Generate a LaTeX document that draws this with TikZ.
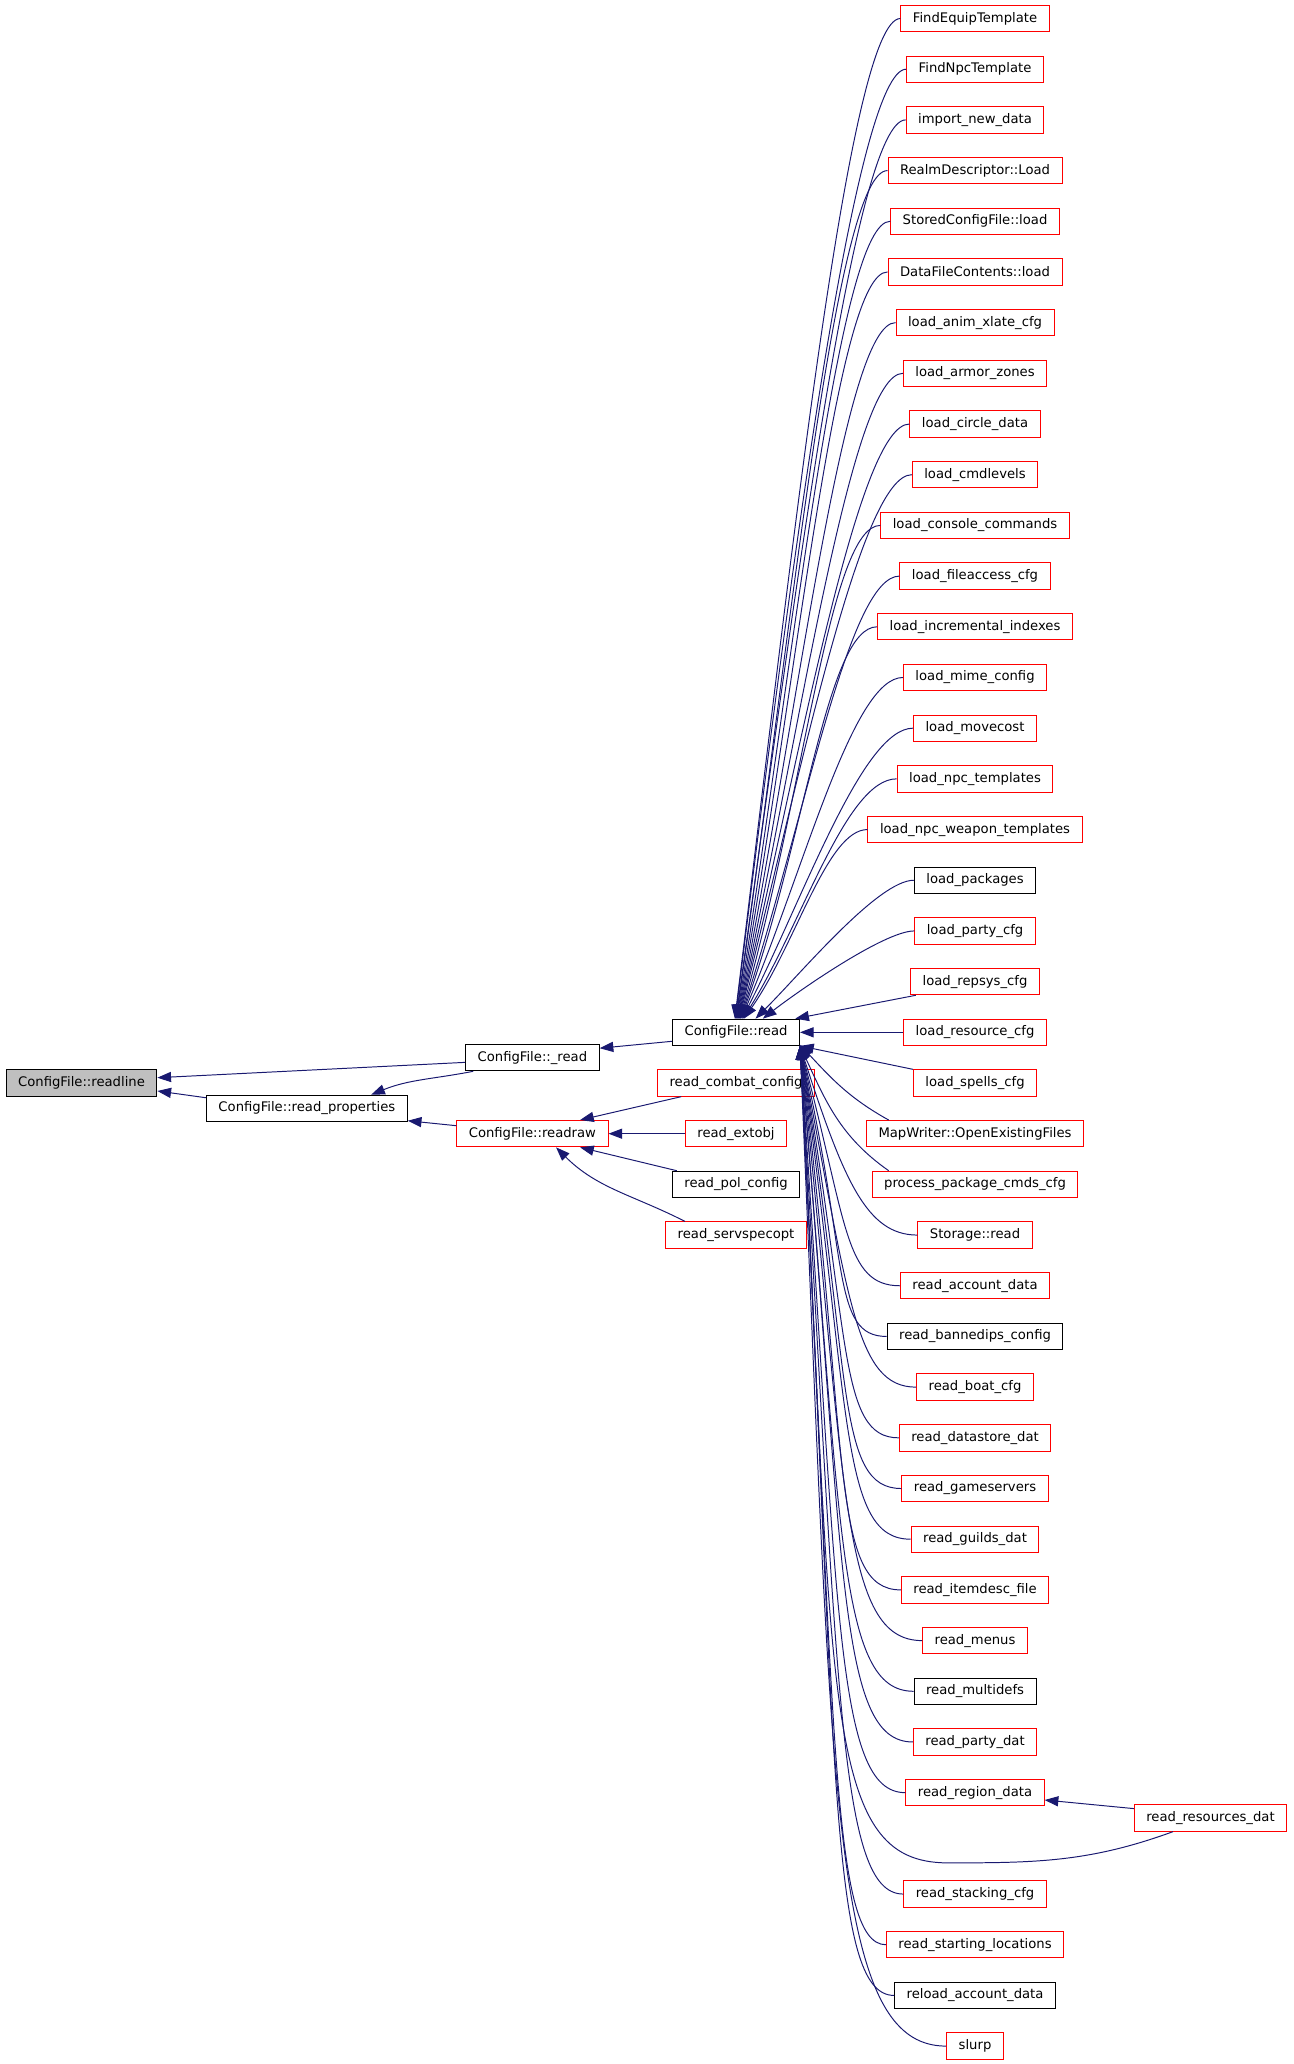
\documentclass[tikz,border=0pt]{standalone}
\usepackage{fontspec}
\setmainfont{DejaVu Sans}
\usetikzlibrary{arrows.meta}

\definecolor{callblue}{HTML}{191970}
\definecolor{focusgray}{HTML}{BFBFBF}

\begin{document}
\begin{tikzpicture}[
    fnbox/.style={rectangle, draw, line width=0.55pt, minimum height=0.52cm,
      inner xsep=0.237cm, inner ysep=0pt, font=\fontsize{7.4}{9}\selectfont},
    redbox/.style={fnbox, draw=red},
    blackbox/.style={fnbox, draw=black},
    focusbox/.style={fnbox, draw=black, fill=focusgray},
    callarrow/.style={callblue, line width=0.55pt, -{Triangle[length=0.27cm, width=0.2cm]}}
  ]
            \useasboundingbox (0,0) rectangle (25.508,-40.718);

            \node[focusbox] (readline) at (1.608,-21.365) {ConfigFile::readline};
            \node[blackbox] (readprops) at (6.054,-21.865) {ConfigFile::read\_properties};
            \node[blackbox] (underread) at (10.503,-20.865) {ConfigFile::\_read};
            \node[redbox] (readraw) at (10.503,-22.365) {ConfigFile::readraw};
            \node[blackbox] (cfgread) at (14.52,-20.365) {ConfigFile::read};
            \node[redbox] (combatcfg) at (14.52,-21.365) {read\_combat\_config};
            \node[redbox] (extobj) at (14.52,-22.365) {read\_extobj};
            \node[blackbox] (polcfg) at (14.52,-23.365) {read\_pol\_config};
            \node[redbox] (servspecopt) at (14.52,-24.365) {read\_servspecopt};

            \node[redbox] (findequip) at (19.235,-0.365) {FindEquipTemplate};
            \node[redbox] (findnpc) at (19.235,-1.365) {FindNpcTemplate};
            \node[redbox] (importdata) at (19.235,-2.365) {import\_new\_data};
            \node[redbox] (realmload) at (19.235,-3.365) {RealmDescriptor::Load};
            \node[redbox] (storedload) at (19.235,-4.365) {StoredConfigFile::load};
            \node[redbox] (datafileload) at (19.235,-5.365) {DataFileContents::load};
            \node[redbox] (animxlate) at (19.235,-6.365) {load\_anim\_xlate\_cfg};
            \node[redbox] (armorzones) at (19.235,-7.365) {load\_armor\_zones};
            \node[redbox] (circledata) at (19.235,-8.365) {load\_circle\_data};
            \node[redbox] (cmdlevels) at (19.235,-9.365) {load\_cmdlevels};
            \node[redbox] (consolecmds) at (19.235,-10.365) {load\_console\_commands};
            \node[redbox] (fileaccess) at (19.235,-11.365) {load\_fileaccess\_cfg};
            \node[redbox] (incrindexes) at (19.235,-12.365) {load\_incremental\_indexes};
            \node[redbox] (mimecfg) at (19.235,-13.365) {load\_mime\_config};
            \node[redbox] (movecost) at (19.235,-14.365) {load\_movecost};
            \node[redbox] (npctemplates) at (19.235,-15.365) {load\_npc\_templates};
            \node[redbox] (npcweapons) at (19.235,-16.365) {load\_npc\_weapon\_templates};
            \node[blackbox] (packages) at (19.235,-17.365) {load\_packages};
            \node[redbox] (partycfg) at (19.235,-18.365) {load\_party\_cfg};
            \node[redbox] (repsys) at (19.235,-19.365) {load\_repsys\_cfg};
            \node[redbox] (resourcecfg) at (19.235,-20.365) {load\_resource\_cfg};
            \node[redbox] (spellscfg) at (19.235,-21.365) {load\_spells\_cfg};
            \node[redbox] (mapwriter) at (19.235,-22.365) {MapWriter::OpenExistingFiles};
            \node[redbox] (pkgcmds) at (19.235,-23.365) {process\_package\_cmds\_cfg};
            \node[redbox] (storageread) at (19.235,-24.365) {Storage::read};
            \node[redbox] (accountdata) at (19.235,-25.365) {read\_account\_data};
            \node[blackbox] (bannedips) at (19.235,-26.365) {read\_bannedips\_config};
            \node[redbox] (boatcfg) at (19.235,-27.365) {read\_boat\_cfg};
            \node[redbox] (datastore) at (19.235,-28.365) {read\_datastore\_dat};
            \node[redbox] (gameservers) at (19.235,-29.365) {read\_gameservers};
            \node[redbox] (guildsdat) at (19.235,-30.365) {read\_guilds\_dat};
            \node[redbox] (itemdesc) at (19.235,-31.365) {read\_itemdesc\_file};
            \node[redbox] (menus) at (19.235,-32.365) {read\_menus};
            \node[blackbox] (multidefs) at (19.235,-33.365) {read\_multidefs};
            \node[redbox] (partydat) at (19.235,-34.365) {read\_party\_dat};
            \node[redbox] (regiondata) at (19.235,-35.365) {read\_region\_data};
            \node[redbox] (resourcesdat) at (23.88,-35.865) {read\_resources\_dat};
            \node[redbox] (stackingcfg) at (19.235,-37.365) {read\_stacking\_cfg};
            \node[redbox] (startlocs) at (19.235,-38.365) {read\_starting\_locations};
            \node[blackbox] (reloadaccount) at (19.235,-39.365) {reload\_account\_data};
            \node[redbox] (slurp) at (19.235,-40.365) {slurp};
            \coordinate (sag) at (18.7,-36.75);

            \draw[callarrow] (cfgread.188) -- (underread.8);
            \draw[callarrow] (underread.184) -- (readline.4);
            \draw[callarrow] (readprops.174) -- (readline.-6);
            \draw[callarrow] (underread.193) to[out=191,in=22] (readprops.12);
            \draw[callarrow] (readraw.174) -- (readprops.-7);
            \draw[callarrow] (combatcfg.194) -- (readraw.16);
            \draw[callarrow] (extobj) -- (readraw);
            \draw[callarrow] (polcfg.167) -- (readraw.-16);
            \draw[callarrow] (servspecopt.165) to[out=153,in=-45] (readraw.-30);

            \draw[callarrow] (findequip) to[out=180,in=83,out distance=1cm,in distance=9.5cm] (cfgread.95);
            \draw[callarrow] (findnpc) to[out=180,in=83,out distance=1cm,in distance=9cm] (cfgread.93);
            \draw[callarrow] (importdata) to[out=180,in=82,out distance=1cm,in distance=8.6cm] (cfgread.91);
            \draw[callarrow] (realmload) to[out=180,in=82,out distance=1cm,in distance=8.1cm] (cfgread.89);
            \draw[callarrow] (storedload) to[out=180,in=81,out distance=1cm,in distance=7.6cm] (cfgread.87);
            \draw[callarrow] (datafileload) to[out=180,in=80,out distance=1cm,in distance=7.1cm] (cfgread.85);
            \draw[callarrow] (animxlate) to[out=180,in=79,out distance=1cm,in distance=6.6cm] (cfgread.83);
            \draw[callarrow] (armorzones) to[out=180,in=78,out distance=1cm,in distance=6.1cm] (cfgread.81);
            \draw[callarrow] (circledata) to[out=180,in=77,out distance=1cm,in distance=5.6cm] (cfgread.79);
            \draw[callarrow] (cmdlevels) to[out=180,in=76,out distance=1cm,in distance=5.1cm] (cfgread.77);
            \draw[callarrow] (consolecmds) to[out=180,in=74,out distance=1cm,in distance=4.7cm] (cfgread.75);
            \draw[callarrow] (fileaccess) to[out=180,in=72,out distance=1cm,in distance=4.2cm] (cfgread.73);
            \draw[callarrow] (incrindexes) to[out=180,in=70,out distance=1cm,in distance=3.7cm] (cfgread.71);
            \draw[callarrow] (mimecfg) to[out=180,in=67,out distance=1cm,in distance=3.2cm] (cfgread.69);
            \draw[callarrow] (movecost) to[out=180,in=63,out distance=1cm,in distance=2.7cm] (cfgread.66);
            \draw[callarrow] (npctemplates) to[out=180,in=58,out distance=1cm,in distance=2.2cm] (cfgread.63);
            \draw[callarrow] (npcweapons) to[out=180,in=55,out distance=0.8cm,in distance=1.8cm] (cfgread.60);
            \draw[callarrow] (packages) to[out=180,in=45,out distance=0.7cm,in distance=1.3cm] (cfgread.35);
            \draw[callarrow] (partycfg) to[out=180,in=38,out distance=0.6cm,in distance=0.8cm] (cfgread.27);
            \draw[callarrow] (repsys.193) -- (cfgread.13);
            \draw[callarrow] (resourcecfg) -- (cfgread);
            \draw[callarrow] (spellscfg.north west) -- (cfgread.-12);
            \draw[callarrow] (mapwriter.171) to[out=151,in=-47] (cfgread.-11);
            \draw[callarrow] (pkgcmds.171) to[out=145,in=-65] (cfgread.-12);
            \draw[callarrow] (storageread) to[out=180,in=-72,out distance=1cm,in distance=2.8cm] (cfgread.-12);
            \draw[callarrow] (accountdata) to[out=180,in=-75,out distance=1.1cm,in distance=3.6cm] (cfgread.-12);
            \draw[callarrow] (bannedips) to[out=180,in=-77,out distance=1.1cm,in distance=4.3cm] (cfgread.-12);
            \draw[callarrow] (boatcfg) to[out=180,in=-79,out distance=1.2cm,in distance=5.1cm] (cfgread.-12);
            \draw[callarrow] (datastore) to[out=180,in=-80,out distance=1.2cm,in distance=5.8cm] (cfgread.-12);
            \draw[callarrow] (gameservers) to[out=180,in=-81,out distance=1.3cm,in distance=6.6cm] (cfgread.-12);
            \draw[callarrow] (guildsdat) to[out=180,in=-82,out distance=1.4cm,in distance=7.3cm] (cfgread.-12);
            \draw[callarrow] (itemdesc) to[out=180,in=-83,out distance=1.4cm,in distance=8.1cm] (cfgread.-12);
            \draw[callarrow] (menus) to[out=180,in=-84,out distance=1.6cm,in distance=8.8cm] (cfgread.-12);
            \draw[callarrow] (multidefs) to[out=180,in=-85,out distance=1.5cm,in distance=9.6cm] (cfgread.-12);
            \draw[callarrow] (partydat) to[out=180,in=-85,out distance=1.5cm,in distance=10.3cm] (cfgread.-12);
            \draw[callarrow] (regiondata) to[out=180,in=-86,out distance=1.4cm,in distance=11.1cm] (cfgread.-12);
            \draw[callarrow] (resourcesdat.200) to[out=200,in=0] (sag)
                to[out=180,in=-87,out distance=2.5cm,in distance=13cm] (cfgread.-12);
            \draw[callarrow] (resourcesdat.173) -- (regiondata.-6);
            \draw[callarrow] (stackingcfg) to[out=180,in=-86.5,out distance=1.3cm,in distance=12.6cm] (cfgread.-12);
            \draw[callarrow] (startlocs) to[out=180,in=-87,out distance=1.1cm,in distance=13.3cm] (cfgread.-12);
            \draw[callarrow] (reloadaccount) to[out=180,in=-87,out distance=1.3cm,in distance=14.1cm] (cfgread.-12);
            \draw[callarrow] (slurp) to[out=180,in=-87.5,out distance=2.3cm,in distance=14.8cm] (cfgread.-12);
        \end{tikzpicture}
\end{document}
